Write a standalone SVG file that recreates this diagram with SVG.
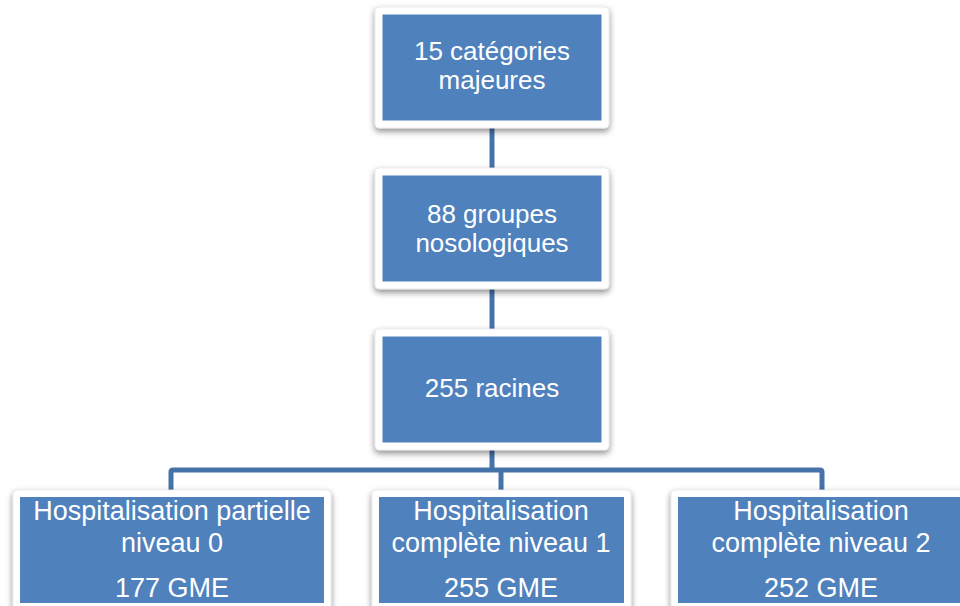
<svg xmlns="http://www.w3.org/2000/svg" width="960" height="606" viewBox="0 0 960 606">
<defs>
<filter id="sh" x="-10%" y="-10%" width="120%" height="130%">
<feDropShadow dx="0" dy="3" stdDeviation="3" flood-color="#000" flood-opacity="0.45"/>
</filter>
</defs>
<style>
.frame{fill:#fff;stroke:#e6e6e6;stroke-width:0.8;filter:url(#sh)}
.box{fill:#4F81BD}
.t{font-family:"Liberation Sans",Arial,sans-serif;font-size:26px;fill:#fff;text-anchor:middle}
.b{font-size:27px}
.c{fill:none;stroke:#4672AA;stroke-width:5;stroke-linejoin:round}
</style>
<rect width="960" height="606" fill="#fff"/>
<g id="connectors">
<line class="c" x1="492" y1="120" x2="492" y2="176" stroke="#3E6898"/>
<line class="c" x1="492" y1="281" x2="492" y2="337" stroke="#3E6898"/>
<path class="c" d="M492 442 V470"/>
<path class="c" d="M171 490 V472 Q171 470 173 470 H820 Q822 470 822 472 V490"/>
<path class="c" d="M501 470 V490"/>
</g>
<g id="n1">
<rect class="frame" x="375" y="7" width="234" height="121" rx="4"/>
<rect class="box" x="382.5" y="14.5" width="219" height="106"/>
<text class="t" x="492" y="59.5">15 catégories</text>
<text class="t" x="492" y="88.5">majeures</text>
</g>
<g id="n2">
<rect class="frame" x="375" y="168" width="234" height="121" rx="4"/>
<rect class="box" x="382.5" y="175.5" width="219" height="106"/>
<text class="t" x="492" y="223">88 groupes</text>
<text class="t" x="492" y="252">nosologiques</text>
</g>
<g id="n3">
<rect class="frame" x="375" y="329" width="234" height="121" rx="4"/>
<rect class="box" x="382.5" y="336.5" width="219" height="106"/>
<text class="t" x="492" y="397">255 racines</text>
</g>
<g id="n4">
<rect class="frame" x="13" y="490" width="318" height="125" rx="4"/>
<rect class="box" x="20" y="497" width="304" height="106"/>
<text class="t b" x="172" y="520">Hospitalisation partielle</text>
<text class="t b" x="172" y="551.5">niveau 0</text>
<text class="t b" x="172" y="596.5">177 GME</text>
</g>
<g id="n5">
<rect class="frame" x="372" y="490" width="259" height="125" rx="4"/>
<rect class="box" x="379" y="497" width="245" height="106"/>
<text class="t b" x="501" y="520">Hospitalisation</text>
<text class="t b" x="501" y="551.5">complète niveau 1</text>
<text class="t b" x="501" y="596.5">255 GME</text>
</g>
<g id="n6">
<rect class="frame" x="671" y="490" width="300" height="125" rx="4"/>
<rect class="box" x="678" y="497" width="286" height="106"/>
<text class="t b" x="821" y="520">Hospitalisation</text>
<text class="t b" x="821" y="551.5">complète niveau 2</text>
<text class="t b" x="821" y="596.5">252 GME</text>
</g>
</svg>
